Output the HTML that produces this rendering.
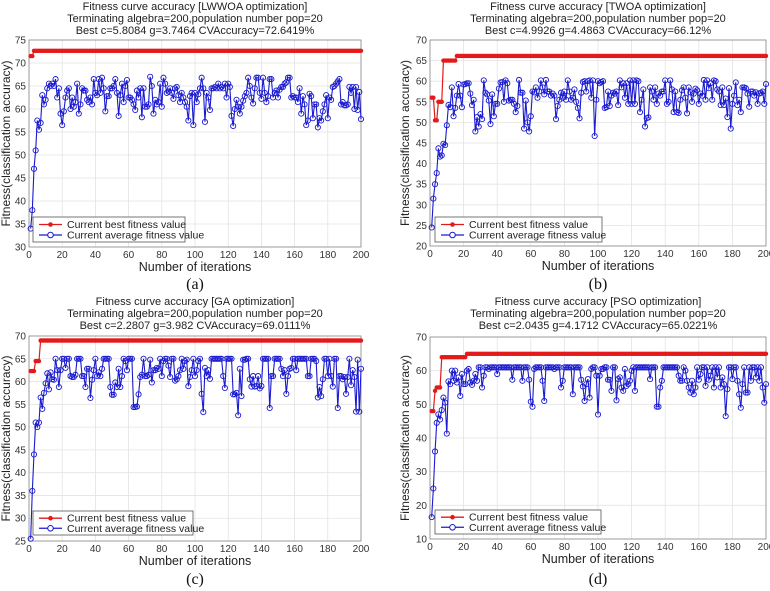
<!DOCTYPE html>
<html><head><meta charset="utf-8"><style>
html,body{margin:0;padding:0;background:#fff;}
svg{display:block;font-family:"Liberation Sans",sans-serif;}
</style></head><body>
<svg id="fig" width="770" height="591" viewBox="0 0 770 591"></svg>
<script>
// ---- data ----
const iterTicks = [0,20,40,60,80,100,120,140,160,180,200];
const titlesA = ["Fitness curve accuracy [LWWOA optimization]","Terminating algebra=200,population number pop=20","Best c=5.8084 g=3.7464 CVAccuracy=72.6419%"];
const titlesB = ["Fitness curve accuracy [TWOA optimization]","Terminating algebra=200,population number pop=20","Best c=4.9926 g=4.4863 CVAccuracy=66.12%"];
const titlesC = ["Fitness curve accuracy [GA optimization]","Terminating algebra=200,population number pop=20","Best c=2.2807 g=3.982 CVAccuracy=69.0111%"];
const titlesD = ["Fitness curve accuracy [PSO optimization]","Terminating algebra=200,population number pop=20","Best c=2.0435 g=4.1712 CVAccuracy=65.0221%"];
const yTicksA = [30,35,40,45,50,55,60,65,70,75];
const yTicksB = [20,25,30,35,40,45,50,55,60,65,70];
const yTicksC = [25,30,35,40,45,50,55,60,65,70];
const yTicksD = [10,20,30,40,50,60,70];
// best fitness: iteration where value changes, and the value
const bestIterA = [1,3];       const bestValA = [71.5,72.64];
const bestIterB = [1,3,5,8,16]; const bestValB = [56,50.5,55,65,66.12];
const bestIterC = [1,4,7];     const bestValC = [62.3,64.5,69.01];
const bestIterD = [1,3,4,7,22]; const bestValD = [48,54,55,64,65.02];
const avgA = [34,38,47,51,57.5,55.5,57,63,61,62,64.5,65.5,65,65.5,65,66.5,62.5,64.5,59,56.5,
59.5,62.5,64,64.5,60,62.5,60.5,61.5,65.5,59,61,64.5,64,64,62,61.5,62.5,61,66.5,63.5,
63,66.5,63.5,66.8,64.5,59.5,62.8,62.8,64.5,64.5,65,66.5,63.5,58.5,63,65.5,61.5,65,66.3,62.5,
62.5,62,61,59.8,64,62.5,64.5,58.2,64.5,60.5,60.5,61,67,65,59,62,61,61.5,65.5,60.5,
66.8,65.5,63.5,63.8,64.5,63.5,62.2,64.5,64.8,63,61.5,63.5,62.5,61.5,60.5,57.5,62.8,63.5,56.5,63.5,
61.5,63.2,64.5,66.8,64.5,57.2,63.5,62.5,59.8,64.5,64.5,64.8,64.5,65.5,64.5,64.8,64.5,65.5,62.5,65.5,
64.8,58.5,56.3,60,62,60.5,59,60.5,61.8,62.8,63.5,66.8,65,62.5,61.2,64.5,66.8,66.8,63.5,62.2,
66.8,63.5,61.5,62.8,66.5,66.5,62.5,63.5,64,62.5,64.2,64.8,64.8,65.5,65.8,66.8,66.8,62.5,62.8,62.5,
62.5,61.5,64.5,59,62.8,61,56.5,57.5,63.3,62.8,58,61,61,56,58,57.5,59.5,61,63,58,
62.5,62,64.8,65,65.5,66,66.5,61,61.5,60.8,60.8,61,64.8,63.5,64.8,60,64.8,59.8,63.7,57.8];
const avgB = [24.5,31.5,35,37.7,43.7,41.7,42,44.8,44.5,49.3,54.2,53.7,58.5,51.5,53.5,56.5,59.3,56.5,53.7,59.2,
59.3,59.5,59.5,57,54.2,55.5,47.8,51.3,49,52,50.8,60.2,57.2,56.8,55.3,49.6,56.8,51.5,54.5,54.5,
58.2,59.7,59.8,55,60.2,59.5,55.3,55.5,55.5,54.5,52.5,54,60.3,57.2,57.2,48.5,55.3,50,47.8,51.5,
57.5,57.3,58.5,56,57.5,60.2,58.5,56.8,60.3,57.5,57.5,56.5,57,56.5,50.8,54,55.5,57.2,56,57.5,
55.5,60.2,57.5,55.5,56,58,55,53.5,51,57.2,59.8,60,57.5,60,60.2,56,60.2,46.7,55.5,60,
59.5,59.8,60,53.5,53.7,57.5,54,56.5,57.2,57,57.5,54.2,60.2,58.5,59.5,56,59.5,54.5,60.2,54.5,
60.2,54.5,60.2,60,52.5,55.5,58,49,51,51.2,58.5,57.5,55.5,58.5,54.5,57,56.5,57.5,57.5,60.2,
54.5,55,60.2,58,52.5,57.5,52.5,52.3,55.5,57.8,58.5,56,52.2,58.5,57.3,55,57,58.2,57.8,54.5,
57,56.5,60.3,55.5,60.2,58.3,59.5,55.5,60.2,60,58,57.5,54.2,58.5,54.2,55.8,51.3,58.3,48.5,54.5,
56.5,59.7,54.2,55.5,52.5,58.5,58.5,58.3,57,53.8,57.5,57.5,56.5,57.3,54.5,57,57.2,57.5,54.5,59.3];
const avgC = [25.5,36,44,51,50,51,56.5,54,57.5,59.6,61.8,58.3,62,60.5,60.4,65,62.5,58.8,62.5,65,
65,63,65,65,61.2,61,61,61.5,65,65,65,61.2,61.2,58.8,62.8,62.8,56.4,60.4,62.5,65,
61.2,62,61.2,62.8,65,65,65,65,58.8,57.1,57.1,59.8,58.8,62.8,58.8,61.2,65,64.5,62.5,65,
65,65,54.4,54.4,54.5,57.2,61,61.5,65,61.2,61.2,61.5,64.8,59.8,62.5,62.5,63,62.8,65,61.2,
64.5,65,65,63.5,61,65,65,60.2,60.5,61.2,62.5,65,62.8,64.5,64.8,59,61,62.5,65,61.2,
62.5,64.5,65,57.3,53.3,63,61.2,62.5,60.6,65,65,65,65,65,65,65,61.2,58.6,65,65,
65,65,57.2,57.2,57.5,52.6,62.8,56.8,64.8,64.8,65,65,60.5,58.9,61.2,58.9,59,61.2,58.5,59,
65,65,65,65,54.2,61.2,61.2,65,65,65,65,62.8,61.2,62.5,57.3,61.2,62.8,63,65,65,
62.5,65,65,65,65,65,65,61.2,61.2,65,65,65,64.5,56.5,58.8,56.8,60.5,65,65,61.2,
65,61.2,58.9,65,65,54.2,61.2,61.2,60.5,61,57.3,61,65,59.2,62.5,61,53.4,64.8,53.4,62.8];
const avgD = [16.5,25,36,44.5,47,45.5,48.3,52,50.5,41.3,56.8,56,60,57,60,56.5,58,52.5,59,56,
56,60,60.5,56.5,55.8,57,59,57,61,61,55,58.5,61,61,60.5,61,61,61,61,59,
61,61,61,61,61,61,61,61,57.3,61,61,61,61,61,57,61,61,61,57.3,50.8,
49.3,60.5,61,61,61,61,57,51,61,61,61,61,61,60.5,61,61,61,55,57,61,
61,61,61,61,53,61,61,61,61,57.3,55.3,51,56,57.5,52,60.5,61,61,58.5,47,
58.5,60.5,60.5,61,61,57.3,57.3,54,61,61,51.2,57.5,58,55,54,60.5,55.5,56,57,60,
61,54,61,61,61,61,61,61,61,61,57.5,61,61,61,49.3,49.3,55,57,61,61,
61,61,61,61,61,61,61,58.5,57,57,61,60,57,55,53.5,57,53,55,61,57.3,
59,61,61,55.5,61,57.3,58.5,61,55,61,58,61,55,58,56,46.5,54.5,61,61,57.5,
61,61,57,53,49,56,61,53.5,53.5,61,57,61,61,58,61,57,61,55,50.5,56];

const NS="http://www.w3.org/2000/svg";
const svg=document.getElementById('fig');
function mk(tag,attrs,parent){const e=document.createElementNS(NS,tag);for(const k in attrs)e.setAttribute(k,attrs[k]);(parent||svg).appendChild(e);return e;}

function panel(cfg){
  const g=mk('g',{});
  
  
  const X=v=>cfg.x0+(v/200)*(cfg.x1-cfg.x0);
  const Y=v=>cfg.yb-(v-cfg.ymin)/(cfg.ymax-cfg.ymin)*(cfg.yb-cfg.yt);
  mk('rect',{x:cfg.x0,y:cfg.yt,width:cfg.x1-cfg.x0,height:cfg.yb-cfg.yt,fill:'#fff',stroke:'none'},g);
  // grid
  iterTicks.forEach(t=>{mk('line',{x1:X(t),x2:X(t),y1:cfg.yt,y2:cfg.yb,stroke:'#e3e3e3','stroke-width':0.8},g);});
  cfg.yticks.forEach(t=>{mk('line',{x1:cfg.x0,x2:cfg.x1,y1:Y(t),y2:Y(t),stroke:'#e3e3e3','stroke-width':0.8},g);});
  mk('rect',{x:cfg.x0,y:cfg.yt,width:cfg.x1-cfg.x0,height:cfg.yb-cfg.yt,fill:'none',stroke:'#888','stroke-width':0.8},g);
  // tick labels
  iterTicks.forEach(t=>{const e=mk('text',{x:X(t),y:cfg.yb+11,'font-size':10,'text-anchor':'middle',fill:'#333'},g);e.textContent=t;
    
    });
  cfg.yticks.forEach(t=>{const e=mk('text',{x:cfg.x0-3,y:Y(t)+3.5,'font-size':10,'text-anchor':'end',fill:'#333'},g);e.textContent=t;
    
    });
  // titles
  const cx=(cfg.x0+cfg.x1)/2;
  cfg.titles.forEach((s,i)=>{const e=mk('text',{x:cx,y:cfg.ty+i*12,'font-size':11,'text-anchor':'middle',fill:'#222'},g);e.textContent=s;
    
    });
  const xl=mk('text',{x:cx,y:cfg.yb+24,'font-size':12.5,'text-anchor':'middle',fill:'#222'},g);xl.textContent='Number of iterations';
  
  
  const ymid=(cfg.yt+cfg.yb)/2;
  const yl=mk('text',{x:cfg.ylx,y:ymid,'font-size':12,'text-anchor':'middle',fill:'#222',transform:`rotate(-90 ${cfg.ylx} ${ymid})`},g);yl.textContent='Fitness(classification accuracy)';
  
  
  const cap=mk('text',{x:cx,y:cfg.capy,'font-size':16,'text-anchor':'middle','font-family':'Liberation Serif, serif',fill:'#111'},g);cap.textContent=cfg.cap;
  
  
  // best series
  const best=[];
  for(let i=1;i<=200;i++){let v=cfg.bestVal[0];for(let k=0;k<cfg.bestIter.length;k++){if(i>=cfg.bestIter[k])v=cfg.bestVal[k];}best.push(v);}
  const avg=cfg.avg;
  let pa='';avg.forEach((v,i)=>{pa+=(i?'L':'M')+X(i+1).toFixed(2)+' '+Y(v).toFixed(2);});
  let pb='';best.forEach((v,i)=>{pb+=(i?'L':'M')+X(i+1).toFixed(2)+' '+Y(v).toFixed(2);});
  const lb=mk('path',{d:pb,fill:'none',stroke:'#e41a1a','stroke-width':1.2},g);
  
  
  best.forEach((v,i)=>{const c=mk('circle',{cx:X(i+1),cy:Y(v),r:2.2,fill:'#e41a1a'},g);
    
    });
  const la=mk('path',{d:pa,fill:'none',stroke:'#1a1ad0','stroke-width':1.1},g);
  
  
  avg.forEach((v,i)=>{const c=mk('circle',{cx:X(i+1),cy:Y(v),r:2.6,fill:'none',stroke:'#1a1ad0','stroke-width':0.9},g);
    
    });
  // legend
  const L=cfg.leg;
  const lg=mk('g',{},g);
  
  
  mk('rect',{x:L[0],y:L[1],width:L[2],height:L[3],fill:'#fff',stroke:'#555','stroke-width':0.8},lg);
  const y1=L[1]+L[3]*0.3, y2=L[1]+L[3]*0.72;
  mk('line',{x1:L[0]+6,x2:L[0]+29,y1:y1,y2:y1,stroke:'#e41a1a','stroke-width':1.3},lg);
  mk('circle',{cx:L[0]+17.5,cy:y1,r:2.3,fill:'#e41a1a'},lg);
  mk('line',{x1:L[0]+6,x2:L[0]+29,y1:y2,y2:y2,stroke:'#1a1ad0','stroke-width':1.3},lg);
  mk('circle',{cx:L[0]+17.5,cy:y2,r:2.8,fill:'#fff',stroke:'#1a1ad0','stroke-width':1},lg);
  const t1=mk('text',{x:L[0]+34,y:y1+3.5,'font-size':10.5,fill:'#222'},lg);t1.textContent='Current best fitness value';
  
  
  const t2=mk('text',{x:L[0]+34,y:y2+3.5,'font-size':10.5,fill:'#222'},lg);t2.textContent='Current average fitness value';
  
  
}

panel({key:'lwwoa',x0:29,x1:361,yt:40,yb:247,ymin:30,ymax:75,yticks:yTicksA,titles:titlesA,ty:10,ylx:10,cap:'(a)',capy:289,avg:avgA,bestIter:bestIterA,bestVal:bestValA,leg:[33,217,152,25]});
panel({key:'twoa',x0:430,x1:766,yt:40,yb:246,ymin:20,ymax:70,yticks:yTicksB,titles:titlesB,ty:10,ylx:409,cap:'(b)',capy:289,avg:avgB,bestIter:bestIterB,bestVal:bestValB,leg:[435,217,167,25]});
panel({key:'ga',x0:29,x1:361,yt:336,yb:541,ymin:25,ymax:70,yticks:yTicksC,titles:titlesC,ty:305,ylx:10,cap:'(c)',capy:584,avg:avgC,bestIter:bestIterC,bestVal:bestValC,leg:[33,511,160,24]});
panel({key:'pso',x0:430,x1:766,yt:337,yb:539,ymin:10,ymax:70,yticks:yTicksD,titles:titlesD,ty:305,ylx:409,cap:'(d)',capy:584,avg:avgD,bestIter:bestIterD,bestVal:bestValD,leg:[435,510,166,24]});
</script>
</body></html>
